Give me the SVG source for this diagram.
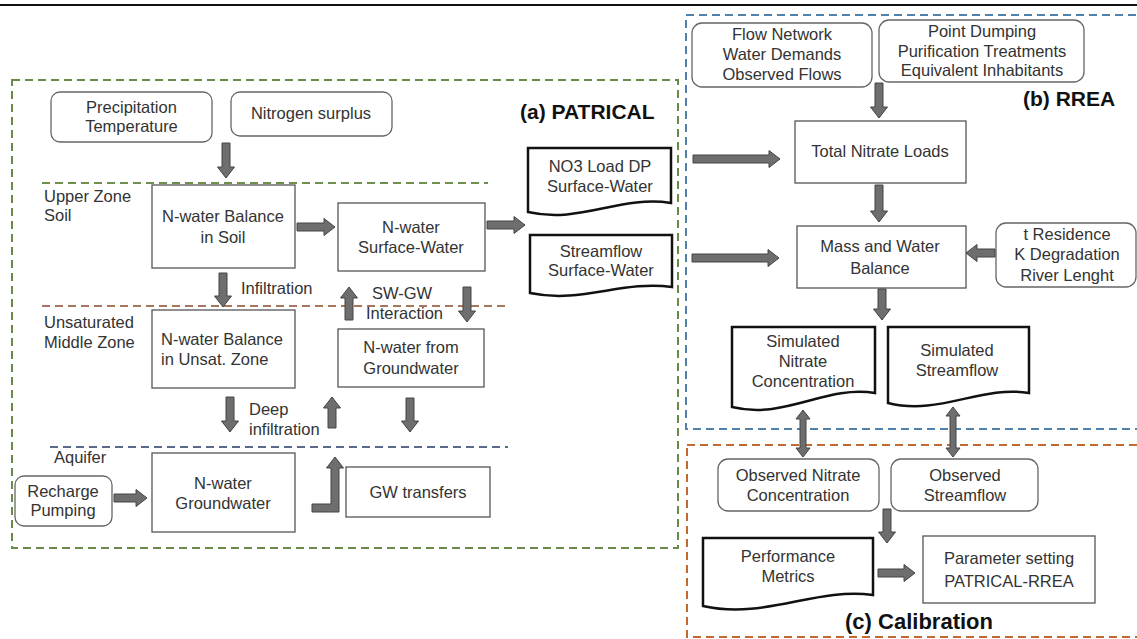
<svg xmlns="http://www.w3.org/2000/svg" width="1137" height="639" viewBox="0 0 1137 639">
<style>
text{font-family:"Liberation Sans",Arial,sans-serif;font-size:16.5px;fill:#333}
.c{text-anchor:middle}
.t{font-weight:bold;font-size:21px;fill:#111}
.box{fill:#fff;stroke:#555;stroke-width:1.3}
.rbox{fill:#fff;stroke:#666;stroke-width:1.3}
.doc{fill:#fff;stroke:#111;stroke-width:2.5}
.arr{fill:#6e6e6e;stroke:#444;stroke-width:1}
.dash{fill:none;stroke-width:2;stroke-dasharray:8 5}
</style>
<rect width="1137" height="639" fill="#fff"/>
<line x1="0" y1="5" x2="1137" y2="5" stroke="#111" stroke-width="2"/>
<g id="frames">
<rect class="dash" x="12" y="80" width="666" height="468" stroke="#6a8a4a"/>
<rect class="dash" x="686" y="15" width="470" height="414" stroke="#4f81aa"/>
<rect class="dash" x="687" y="445" width="470" height="192" stroke="#c06a30"/>
<line class="dash" x1="42" y1="183" x2="488" y2="183" stroke="#6e8f4e"/>
<line class="dash" x1="42" y1="306" x2="505" y2="306" stroke="#a8765c"/>
<line class="dash" x1="50" y1="447" x2="508" y2="447" stroke="#5a6a8e"/>
<text class="t" x="520" y="119">(a) PATRICAL</text>
<text class="t" x="1023" y="106">(b) RREA</text>
<text class="t c" x="919" y="629" style="font-size:22px">(c) Calibration</text>
<text x="44" y="202">Upper Zone</text>
<text x="44" y="221">Soil</text>
<text x="44" y="328">Unsaturated</text>
<text x="44" y="348">Middle Zone</text>
<text x="54" y="463">Aquifer</text>
</g>
<g id="n-precip"><rect class="rbox" x="51" y="92" width="161" height="50" rx="9"/><text class="c" x="131.5" y="113">Precipitation</text><text class="c" x="131.5" y="132">Temperature</text></g>
<g id="n-nitrogen"><rect class="rbox" x="231" y="92" width="161" height="44" rx="9"/><text class="c" x="311" y="119">Nitrogen surplus</text></g>
<g id="n-soil"><rect class="box" x="152" y="185" width="143" height="83"/><text class="c" x="223" y="222">N-water Balance</text><text class="c" x="223" y="243">in Soil</text></g>
<g id="n-surface"><rect class="box" x="338" y="203" width="147" height="68"/><text class="c" x="411" y="233">N-water</text><text class="c" x="411" y="253">Surface-Water</text></g>
<g id="n-unsat"><rect class="box" x="152" y="310" width="143" height="78"/><text x="161" y="345">N-water Balance</text><text x="161" y="365">in Unsat. Zone</text></g>
<g id="n-fromgw"><rect class="box" x="338" y="329" width="146" height="58"/><text class="c" x="411" y="353">N-water from</text><text class="c" x="411" y="374">Groundwater</text></g>
<g id="n-gw"><rect class="box" x="152" y="453" width="143" height="79"/><text class="c" x="223" y="489">N-water</text><text class="c" x="223" y="509">Groundwater</text></g>
<g id="n-transfers"><rect class="box" x="346" y="467" width="144" height="50"/><text class="c" x="418" y="498">GW transfers</text></g>
<g id="n-recharge"><rect class="rbox" x="15" y="476" width="97" height="50" rx="9"/><text class="c" x="63" y="497">Recharge</text><text class="c" x="63" y="516">Pumping</text></g>
<g id="n-no3"><path class="doc" d="M528,148 H671 V203 C620,195 580,224 528,212 Z"/><text class="c" x="600" y="172">NO3 Load DP</text><text class="c" x="600" y="192">Surface-Water</text></g>
<g id="n-streamflow"><path class="doc" d="M530,235 H672 V287 C622,280 582,304 530,293 Z"/><text class="c" x="601" y="257">Streamflow</text><text class="c" x="601" y="276">Surface-Water</text></g>
<g id="n-flow"><rect class="rbox" x="692" y="23" width="180" height="64" rx="10"/><text class="c" x="782" y="40">Flow Network</text><text class="c" x="782" y="60">Water Demands</text><text class="c" x="782" y="80">Observed Flows</text></g>
<g id="n-point"><rect class="rbox" x="879" y="20" width="205" height="62" rx="10"/><text class="c" x="982" y="37">Point Dumping</text><text class="c" x="982" y="57">Purification Treatments</text><text class="c" x="982" y="76">Equivalent Inhabitants</text></g>
<g id="n-total"><rect class="box" x="795" y="121" width="171" height="62"/><text class="c" x="880" y="157">Total Nitrate Loads</text></g>
<g id="n-mass"><rect class="box" x="797" y="226" width="169" height="62"/><text class="c" x="880" y="252">Mass and Water</text><text class="c" x="880" y="274">Balance</text></g>
<g id="n-tres"><rect class="rbox" x="996" y="223" width="140" height="64" rx="10"/><text class="c" x="1067" y="240">t Residence</text><text class="c" x="1067" y="260">K Degradation</text><text class="c" x="1067" y="281">River Lenght</text></g>
<g id="n-simnit"><path class="doc" d="M732,327 H875 V393 C825,385 785,420 732,407 Z"/><text class="c" x="803" y="347">Simulated</text><text class="c" x="803" y="367">Nitrate</text><text class="c" x="803" y="387">Concentration</text></g>
<g id="n-simflow"><path class="doc" d="M888,327 H1029 V393 C980,385 940,416 888,403 Z"/><text class="c" x="957" y="356">Simulated</text><text class="c" x="957" y="376">Streamflow</text></g>
<g id="n-obsnit"><rect class="rbox" x="718" y="459" width="161" height="52" rx="10"/><text class="c" x="798" y="481">Observed Nitrate</text><text class="c" x="798" y="501">Concentration</text></g>
<g id="n-obsflow"><rect class="rbox" x="891" y="459" width="147" height="52" rx="10"/><text class="c" x="965" y="481">Observed</text><text class="c" x="965" y="501">Streamflow</text></g>
<g id="n-perf"><path class="doc" d="M703,538 H873 V595 C815,587 765,620 703,606 Z"/><text class="c" x="788" y="562">Performance</text><text class="c" x="788" y="582">Metrics</text></g>
<g id="n-param"><rect class="box" x="923" y="536" width="172" height="67"/><text class="c" x="1009" y="564">Parameter setting</text><text class="c" x="1009" y="587">PATRICAL-RREA</text></g>
<g id="labels">
<text x="241" y="294">Infiltration</text>
<text x="372" y="299">SW-GW</text>
<text x="366" y="319">Interaction</text>
<text x="249" y="415">Deep</text>
<text x="249" y="435">infiltration</text>
</g>
<g id="connectors">
<polygon class="arr" points="222,143 230,143 230,167 234.5,167 226,178 217.5,167 222,167"/>
<polygon class="arr" points="297,223 324,223 324,218.5 335,227 324,235.5 324,231 297,231"/>
<polygon class="arr" points="487,221 514,221 514,216.5 525,225 514,233.5 514,229 487,229"/>
<polygon class="arr" points="219,273 227,273 227,296 231.5,296 223,307 214.5,296 219,296"/>
<polygon class="arr" points="345,320 353,320 353,298 357.5,298 349,287 340.5,298 345,298"/>
<polygon class="arr" points="463,287 471,287 471,311 475.5,311 467,322 458.5,311 463,311"/>
<polygon class="arr" points="226,397 234,397 234,421 238.5,421 230,432 221.5,421 226,421"/>
<polygon class="arr" points="328,428 336,428 336,408 340.5,408 332,397 323.5,408 328,408"/>
<polygon class="arr" points="406,398 414,398 414,421 418.5,421 410,432 401.5,421 406,421"/>
<polygon class="arr" points="114,494 136,494 136,489.5 147,498 136,506.5 136,502 114,502"/>
<polygon class="arr" points="312,504 331,504 331,468 326.5,468 335,457 343.5,468 339,468 339,512 312,512"/>
<polygon class="arr" points="693,155 769,155 769,150.5 780,159 769,167.5 769,163 693,163"/>
<polygon class="arr" points="692,254 768,254 768,249.5 779,258 768,266.5 768,262 692,262"/>
<polygon class="arr" points="875,83 883,83 883,107 887.5,107 879,118 870.5,107 875,107"/>
<polygon class="arr" points="875,185 883,185 883,211 887.5,211 879,222 870.5,211 875,211"/>
<polygon class="arr" points="995,249 977,249 977,244.5 966,253 977,261.5 977,257 995,257"/>
<polygon class="arr" points="878,289 886,289 886,309 890.5,309 882,320 873.5,309 878,309"/>
<polygon class="arr" points="803,410 810,419 806,419 806,448 810,448 803,457 796,448 800,448 800,419 796,419"/>
<polygon class="arr" points="953,407 960,416 956,416 956,448 960,448 953,457 946,448 950,448 950,416 946,416"/>
<polygon class="arr" points="883,509 891,509 891,532 895.5,532 887,543 878.5,532 883,532"/>
<polygon class="arr" points="878,569 904,569 904,564.5 915,573 904,581.5 904,577 878,577"/>
</g>
</svg>
